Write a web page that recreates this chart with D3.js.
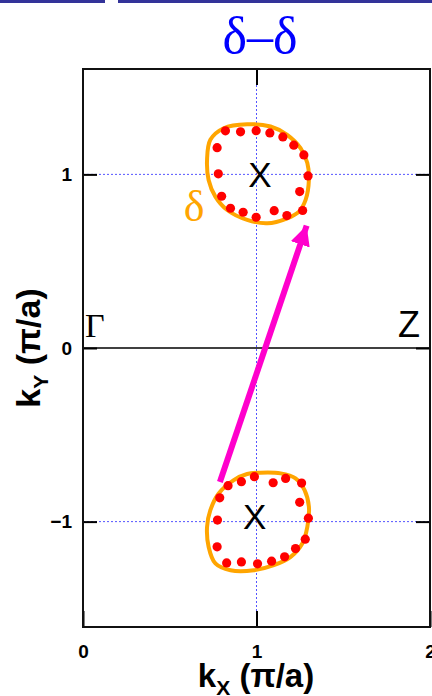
<!DOCTYPE html>
<html>
<head>
<meta charset="utf-8">
<script src="https://cdn.jsdelivr.net/npm/d3@7"></script>
<style>
  html, body { margin: 0; padding: 0; background: #fff; }
  svg { display: block; }
</style>
</head>
<body>
<svg id="chart" width="432" height="696"></svg>
<script>
// Fermi-surface pockets near X = (1, ±1), in units of π/a
const upperContour = [
  [0.946, 1.289], [1.081, 1.276], [1.177, 1.228], [1.254, 1.151], [1.293, 1.065],
  [1.302, 0.968], [1.283, 0.853], [1.245, 0.786], [1.177, 0.747], [1.062, 0.718],
  [0.946, 0.738], [0.831, 0.795], [0.763, 0.872], [0.724, 0.968], [0.715, 1.084],
  [0.734, 1.199], [0.811, 1.266]
];
const lowerContour = [
  [1.023, -0.718], [1.139, -0.722], [1.225, -0.751], [1.277, -0.818], [1.302, -0.914],
  [1.293, -1.030], [1.264, -1.126], [1.197, -1.203], [1.100, -1.251], [0.985, -1.280],
  [0.850, -1.280], [0.763, -1.241], [0.724, -1.145], [0.715, -1.030], [0.734, -0.934],
  [0.782, -0.838], [0.869, -0.761], [0.946, -0.726]
];
// Measured Fermi momenta
const upperPoints = [
  [0.821, 1.251], [0.908, 1.245], [0.998, 1.252], [1.077, 1.239], [1.152, 1.216],
  [1.215, 1.168], [1.273, 1.112], [1.297, 0.991], [1.249, 0.901], [1.266, 0.792],
  [1.175, 0.763], [1.102, 0.791], [0.998, 0.753], [0.923, 0.782], [0.850, 0.805],
  [0.799, 0.874], [0.780, 1.003], [0.773, 1.154]
];
const lowerPoints = [
  [0.836, -0.793], [0.913, -0.770], [0.988, -0.741], [1.096, -0.776], [1.168, -0.751],
  [1.260, -0.778], [1.249, -0.889], [1.299, -0.980], [1.281, -1.101], [1.225, -1.155],
  [1.162, -1.203], [1.087, -1.228], [1.006, -1.243], [0.913, -1.232], [0.828, -1.238],
  [0.773, -1.145], [0.775, -0.991], [0.788, -0.863]
];
// Scattering vector connecting the two pockets
const nestingVector = [[0.789, -0.772], [1.289, 0.705]];

const xTicks = [0, 1, 2];
const yTicks = [-1, 0, 1];
const gridX = [1];
const gridY = [-1, 1];
const pointLabels = [
  { text: "X", x: 1.02, y: 1.0 },
  { text: "X", x: 0.99, y: -0.97 }
];

const svg = d3.select("#chart");
const x = d3.scaleLinear().domain([0, 2]).range([83, 430]);
const y = d3.scaleLinear().domain([-1.607, 1.607]).range([627, 69]);

// header rule
svg.append("rect").attr("x", 0).attr("y", 0).attr("width", 105).attr("height", 3).attr("fill", "#333399");
svg.append("rect").attr("x", 118).attr("y", 0).attr("width", 314).attr("height", 3).attr("fill", "#333399");

// title
svg.append("text").attr("x", 260).attr("y", 53).attr("text-anchor", "middle")
  .attr("font-family", "Liberation Serif, serif").attr("font-size", 52).attr("fill", "#0000ff")
  .text("δ–δ");

// dotted guides through X
svg.selectAll("line.gx").data(gridX).join("line")
  .attr("x1", d => x(d)).attr("x2", d => x(d)).attr("y1", y.range()[1]).attr("y2", y.range()[0])
  .attr("stroke", "#5555ff").attr("stroke-width", 1).attr("stroke-dasharray", "2,2");
svg.selectAll("line.gy").data(gridY).join("line")
  .attr("y1", d => y(d)).attr("y2", d => y(d)).attr("x1", x.range()[0]).attr("x2", x.range()[1])
  .attr("stroke", "#5555ff").attr("stroke-width", 1).attr("stroke-dasharray", "2,2");

// ky = 0 line
svg.append("line").attr("x1", x(0)).attr("x2", x(2)).attr("y1", y(0)).attr("y2", y(0))
  .attr("stroke", "#000").attr("stroke-width", 1.5);

// axes with inward ticks
const axisStyle = g => {
  g.select(".domain").remove();
  g.selectAll(".tick line").attr("stroke", "#000").attr("stroke-width", 2);
  g.selectAll(".tick text").attr("font-family", "Liberation Sans, Arial, sans-serif")
    .attr("font-weight", "bold").attr("font-size", 19).attr("fill", "#000");
};
svg.append("g").attr("transform", `translate(0,${y.range()[0]})`)
  .call(d3.axisBottom(x).tickValues(xTicks).tickFormat(d3.format("d")).tickSizeInner(-16).tickPadding(31))
  .call(axisStyle)
  .call(g => g.selectAll(".tick text").attr("dy", "0"));
svg.append("g").attr("transform", `translate(${x.range()[0]},0)`)
  .call(d3.axisLeft(y).tickValues(yTicks).tickFormat(d3.format("d")).tickSizeInner(-14).tickPadding(11))
  .call(axisStyle);
// right-side ticks
svg.append("g").attr("transform", `translate(${x.range()[1]},0)`)
  .call(d3.axisRight(y).tickValues(yTicks).tickFormat("").tickSizeInner(-14))
  .call(axisStyle);
// top ticks
svg.append("g").attr("transform", `translate(0,${y.range()[1]})`)
  .call(d3.axisTop(x).tickValues([1]).tickFormat("").tickSizeInner(-16))
  .call(axisStyle);

// frame
svg.append("rect").attr("x", x(0)).attr("y", y.range()[1])
  .attr("width", x(2) - x(0)).attr("height", y.range()[0] - y.range()[1])
  .attr("fill", "none").attr("stroke", "#111").attr("stroke-width", 2);

// axis titles
const xt = svg.append("text").attr("x", 256).attr("y", 687).attr("text-anchor", "middle")
  .attr("font-family", "Liberation Sans, Arial, sans-serif").attr("font-weight", "bold")
  .attr("font-size", 33).attr("fill", "#000");
xt.append("tspan").text("k");
xt.append("tspan").attr("font-size", 21).attr("dy", 8).text("X");
xt.append("tspan").attr("dy", -8).text(" (π/a)");

const yt = svg.append("text").attr("transform", "translate(40,348) rotate(-90)").attr("text-anchor", "middle")
  .attr("font-family", "Liberation Sans, Arial, sans-serif").attr("font-weight", "bold")
  .attr("font-size", 34).attr("fill", "#000");
yt.append("tspan").text("k");
yt.append("tspan").attr("font-size", 21).attr("dy", 8).text("Y");
yt.append("tspan").attr("dy", -8).text(" (π/a)");

// pocket contours
const contourLine = d3.line().x(d => x(d[0])).y(d => y(d[1])).curve(d3.curveCatmullRomClosed.alpha(0.5));
svg.selectAll("path.pocket").data([upperContour, lowerContour]).join("path")
  .attr("class", "pocket").attr("d", contourLine)
  .attr("fill", "none").attr("stroke", "#ffa500").attr("stroke-width", 4);

// measured points
svg.selectAll("circle.kf").data(upperPoints.concat(lowerPoints)).join("circle")
  .attr("class", "kf").attr("cx", d => x(d[0])).attr("cy", d => y(d[1])).attr("r", 4.6)
  .attr("fill", "#ff0000");

// nesting arrow
svg.append("defs").append("marker").attr("id", "head")
  .attr("viewBox", "0 0 10 10").attr("refX", 10).attr("refY", 5)
  .attr("markerWidth", 3.3).attr("markerHeight", 3.3).attr("markerUnits", "strokeWidth")
  .attr("orient", "auto")
  .append("path").attr("d", "M0,0 L10,5 L0,10 Z").attr("fill", "#ff00cc");
svg.append("line")
  .attr("x1", x(nestingVector[0][0])).attr("y1", y(nestingVector[0][1]))
  .attr("x2", x(nestingVector[1][0])).attr("y2", y(nestingVector[1][1]))
  .attr("stroke", "#ff00cc").attr("stroke-width", 6).attr("marker-end", "url(#head)");

// symmetry-point labels
svg.selectAll("text.pt").data(pointLabels).join("text").attr("class", "pt")
  .attr("x", d => x(d.x)).attr("y", d => y(d.y)).attr("dy", "0.36em").attr("text-anchor", "middle")
  .attr("font-family", "Liberation Sans, Arial, sans-serif").attr("font-size", 35).attr("fill", "#000")
  .text(d => d.text);
svg.append("text").attr("x", x(0) + 2).attr("y", y(0) - 11)
  .attr("font-family", "Liberation Serif, serif").attr("font-size", 34).attr("fill", "#000").text("Γ");
svg.append("text").attr("x", x(2) - 10).attr("y", y(0) - 11).attr("text-anchor", "end")
  .attr("font-family", "Liberation Sans, Arial, sans-serif").attr("font-size", 36).attr("fill", "#000").text("Z");
svg.append("text").attr("x", 194).attr("y", 221).attr("text-anchor", "middle")
  .attr("font-family", "Liberation Serif, serif").attr("font-size", 44).attr("fill", "#ffa500").text("δ");
</script>
</body>
</html>
